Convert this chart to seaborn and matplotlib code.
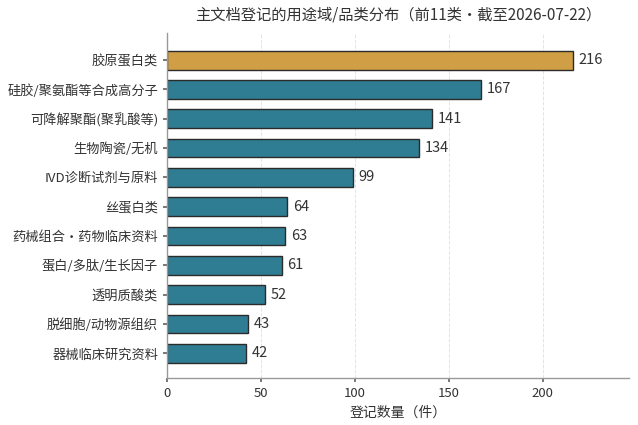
import matplotlib
matplotlib.use("Agg")
import matplotlib.pyplot as plt
import seaborn as sns
import pandas as pd

categories = [
    "胶原蛋白类",
    "硅胶/聚氨酯等合成高分子",
    "可降解聚酯(聚乳酸等)",
    "生物陶瓷/无机",
    "IVD诊断试剂与原料",
    "丝蛋白类",
    "药械组合·药物临床资料",
    "蛋白/多肽/生长因子",
    "透明质酸类",
    "脱细胞/动物源组织",
    "器械临床研究资料",
]
counts = [216, 167, 141, 134, 99, 64, 63, 61, 52, 43, 42]

df = pd.DataFrame({"cat": categories, "n": counts})

sns.set_theme(style="white")
plt.rcParams["font.family"] = ["Noto Sans CJK SC", "DejaVu Sans"]

gold = "#D09E44"
teal = "#2F7D93"
palette = [gold] + [teal] * (len(categories) - 1)

fig = plt.figure(figsize=(6.38, 4.25), dpi=100)
ax = fig.add_axes([0.262, 0.11, 0.724, 0.812])

sns.barplot(data=df, y="cat", x="n", hue="cat", palette=palette, legend=False,
            orient="h", width=0.64, saturation=1, edgecolor="#2b2b2b",
            linewidth=1.0, ax=ax)

for i, v in enumerate(counts):
    ax.text(v + 3, i, str(v), va="center", ha="left", fontsize=10.5, color="#333333")

ax.set_xlim(0, 246)
ax.set_ylim(10.85, -0.92)
ax.set_xticks([0, 50, 100, 150, 200])
ax.xaxis.grid(True, linestyle="--", color="#e4e4e4", linewidth=0.7)
ax.set_axisbelow(True)

ax.set_ylabel("")
ax.set_xlabel("登记数量（件）", fontsize=10, color="#333333")
ax.set_title("主文档登记的用途域/品类分布（前11类·截至2026-07-22）", fontsize=11,
             color="#333333", pad=10)

for s in ["top", "right"]:
    ax.spines[s].set_visible(False)
for s in ["left", "bottom"]:
    ax.spines[s].set_color("#999999")
    ax.spines[s].set_linewidth(1.0)

ax.tick_params(axis="both", which="both", length=3, color="#666666",
               labelsize=9.5, labelcolor="#333333", left=True, bottom=True)

fig.savefig("out.png", dpi=100)
